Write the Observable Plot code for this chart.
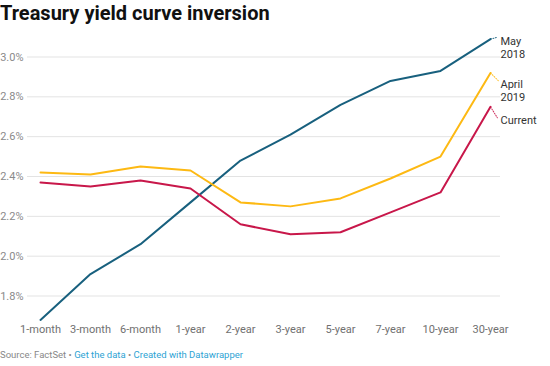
<!DOCTYPE html>
<html>
<head>
<meta charset="utf-8">
<script src="https://cdn.jsdelivr.net/npm/d3@7"></script>
<script src="https://cdn.jsdelivr.net/npm/@observablehq/plot@0.6"></script>
<style>
  html, body { margin: 0; padding: 0; background: #fff; }
  body { width: 550px; height: 366px; overflow: hidden; font-family: Roboto, "Noto Sans", sans-serif; position: relative; }
  #title { font-weight: 700; font-size: 20px; color: #111; line-height: 24px; padding: 1px 0 0 0; height: 27px; }
  #chart svg { display: block; }
  #foot { font-size: 9.5px; color: #888; position: absolute; top: 349px; left: 0; }
  #foot a { color: #2ea3d4; text-decoration: none; }
</style>
</head>
<body>
<div id="title">Treasury yield curve inversion</div>
<div id="chart"></div>
<div id="foot">Source: FactSet • <a>Get the data</a> • <a>Created with Datawrapper</a></div>
<script>
const maturities = ["1-month","3-month","6-month","1-year","2-year","3-year","5-year","7-year","10-year","30-year"];
const may2018   = [1.68, 1.91, 2.06, 2.27, 2.48, 2.61, 2.76, 2.88, 2.93, 3.09];
const april2019 = [2.42, 2.41, 2.45, 2.43, 2.27, 2.25, 2.29, 2.39, 2.50, 2.92];
const current   = [2.37, 2.35, 2.38, 2.34, 2.16, 2.11, 2.12, 2.22, 2.32, 2.75];
const seriesNames = ["May\n2018", "April\n2019", "Current"];
const yTicks = [1.8, 2.0, 2.2, 2.4, 2.6, 2.8, 3.0];

const colors = {"May\n2018": "#18607e", "April\n2019": "#fdb913", "Current": "#c8174a"};
const labelDy = {"May\n2018": -3, "April\n2019": 6, "Current": 8};
const connector = {"May\n2018": {rotate: 75, length: 6}, "April\n2019": {rotate: 135, length: 11}, "Current": {rotate: 148, length: 13}};

const seriesVals = [may2018, april2019, current];
const rows = [];
seriesNames.forEach((s, si) => maturities.forEach((m, i) => rows.push({series: s, maturity: m, value: seriesVals[si][i]})));
const lastMat = maturities[maturities.length - 1];
const lineShape = {draw(context, l) { context.moveTo(0, 0); context.lineTo(0, -l); }};

const labelMarks = seriesNames.flatMap(s => {
  const last = rows.filter(d => d.series === s && d.maturity === lastMat);
  return [
    Plot.vector(last, {
      x: "maturity", y: "value", anchor: "start", shape: lineShape,
      length: connector[s].length, rotate: connector[s].rotate,
      stroke: colors[s], strokeWidth: 1, strokeDasharray: "1,1.5", strokeOpacity: 0.9
    }),
    Plot.text(last, {
      x: "maturity", y: "value", text: "series", textAnchor: "start", lineAnchor: "top",
      dx: 10, dy: labelDy[s], fill: "#333", fontSize: 11, lineHeight: 1.15
    })
  ];
});

const chart = Plot.plot({
  width: 550,
  height: 313,
  marginLeft: 27,
  marginRight: 50,
  marginTop: 0,
  marginBottom: 22,
  style: {fontFamily: "Roboto, sans-serif", fontSize: "11px", color: "#888", background: "#fff"},
  x: {type: "point", domain: maturities, range: [36, 494], padding: 0, label: null},
  y: {domain: [1.8, 3.0], range: [267.5, 28.5], label: null},
  marks: [
    Plot.ruleY(yTicks, {stroke: "#e3e3e3", strokeWidth: 1}),
    Plot.axisY(yTicks, {tickSize: 0, tickPadding: 4, tickFormat: d => d.toFixed(1) + "%", fill: "#8a8a8a", fontSize: 11, label: null}),
    Plot.axisX(maturities, {tickSize: 0, tickPadding: 6, fill: "#707070", fontSize: 11, label: null}),
    Plot.line(rows, {x: "maturity", y: "value", z: "series", stroke: d => colors[d.series], strokeWidth: 2, curve: "linear"}),
    ...labelMarks
  ]
});
document.getElementById("chart").appendChild(chart);
</script>
</body>
</html>
